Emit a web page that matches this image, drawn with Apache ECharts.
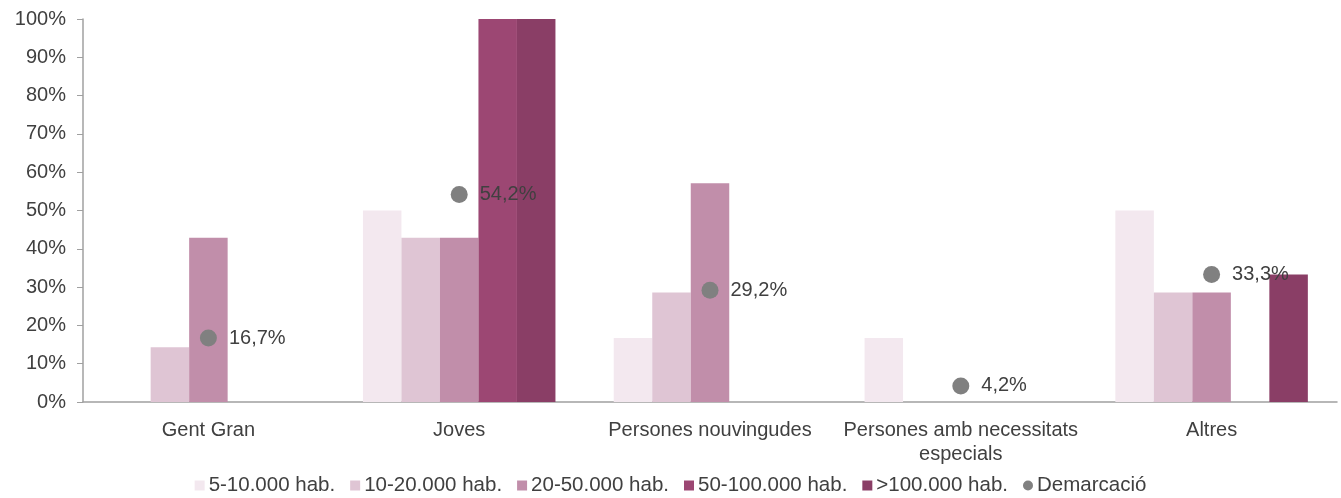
<!DOCTYPE html>
<html><head><meta charset="utf-8">
<script src="https://cdn.jsdelivr.net/npm/echarts@6/dist/echarts.min.js"></script>
<style>html,body{margin:0;padding:0;background:#fff}#c{width:1341px;height:498px}</style>
</head><body><div id="c"></div>
<script>
const categories = ['Gent Gran', 'Joves', 'Persones nouvingudes', 'Persones amb necessitats\nespecials', 'Altres'];
const s5_10 = [0, 50, 16.7, 16.7, 50];
const s10_20 = [14.3, 42.9, 28.6, 0, 28.6];
const s20_50 = [42.9, 42.9, 57.1, 0, 28.6];
const s50_100 = [0, 100, 0, 0, 0];
const s100 = [0, 100, 0, 0, 33.3];
const demarcacio = [16.7, 54.2, 29.2, 4.2, 33.3];
const yTicks = [0, 10, 20, 30, 40, 50, 60, 70, 80, 90, 100];

const names = ['5-10.000 hab.', '10-20.000 hab.', '20-50.000 hab.', '50-100.000 hab.', '>100.000 hab.'];
const colors = ['#f3e8ef', '#dfc5d4', '#c18eaa', '#9c4773', '#8a3e66'];
const barData = [s5_10, s10_20, s20_50, s50_100, s100];
const font = 'Liberation Sans, Arial, sans-serif';
const txt = '#404040';

const series = barData.map((d, i) => ({
  name: names[i], type: 'bar', data: d, barWidth: 38.5, barGap: '0%',
  itemStyle: { color: colors[i] }, emphasis: { disabled: true }
}));
series.push({
  name: 'Demarcació', type: 'scatter', data: demarcacio, symbolSize: 17,
  itemStyle: { color: '#808080', opacity: 1 }, z: 5, emphasis: { disabled: true },
  label: { show: true, position: 'right', distance: 12, color: txt, fontSize: 20, fontFamily: font,
    formatter: p => p.value.toFixed(1).replace('.', ',') + '%' }
});

const chart = echarts.init(document.getElementById('c'), null, { renderer: 'canvas' });
chart.setOption({
  animation: false,
  textStyle: { fontFamily: font },
  grid: { left: 83, right: 4, top: 19, bottom: 96, containLabel: false },
  legend: {
    bottom: -3, left: 'center', itemWidth: 10, itemHeight: 10, itemGap: 15,
    textStyle: { color: txt, fontSize: 20.5, fontFamily: font, padding: [0, 0, 0, -1] },
    data: names.map(n => ({ name: n, icon: 'rect' })).concat([{ name: 'Demarcació', icon: 'circle' }])
  },
  xAxis: {
    type: 'category', data: categories,
    axisLine: { lineStyle: { color: '#a0a0a0', width: 1.5 } },
    axisTick: { show: false },
    axisLabel: { color: txt, fontSize: 20, fontFamily: font, margin: 16, lineHeight: 24, interval: 0 }
  },
  yAxis: {
    type: 'value', min: 0, max: 100, interval: 10,
    axisLine: { show: true, lineStyle: { color: '#a0a0a0', width: 1.5 } },
    axisTick: { show: true, length: 6, lineStyle: { color: '#a0a0a0' } },
    splitLine: { show: false },
    axisLabel: { color: txt, fontSize: 20, fontFamily: font, margin: 17,
      formatter: v => yTicks.includes(v) ? v + '%' : '' }
  },
  series: series
});
</script></body></html>
